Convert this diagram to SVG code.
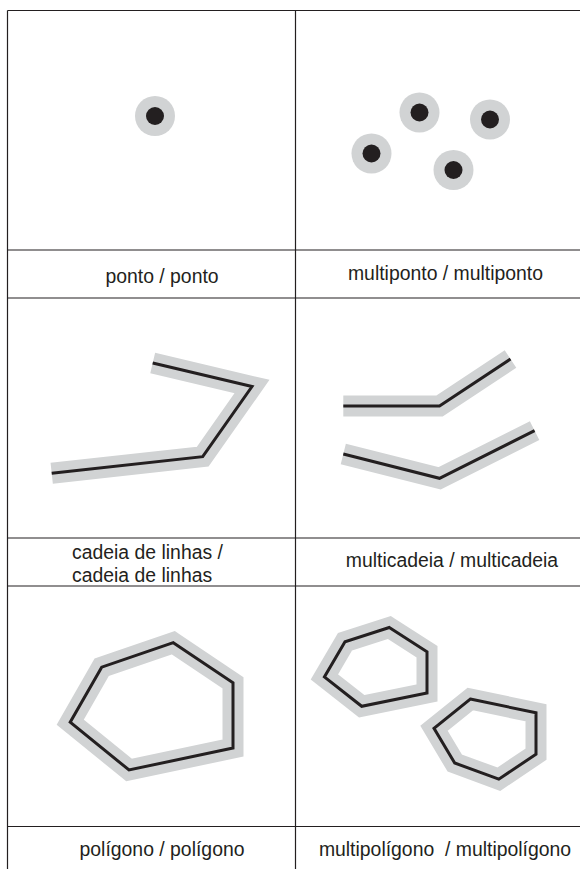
<svg xmlns="http://www.w3.org/2000/svg" width="580" height="869" viewBox="0 0 580 869">
<style>
.grid{stroke:#231f20;stroke-width:1.2;fill:none}
.halo{stroke:#d1d3d4;stroke-width:21;fill:none;stroke-linejoin:miter;stroke-miterlimit:10;stroke-linecap:butt}
.core{stroke:#231f20;stroke-width:3;fill:none;stroke-linejoin:miter;stroke-miterlimit:10}
.ph{fill:#d1d3d4}
.pc{fill:#231f20}
.lbl{font-family:"Liberation Sans",Arial,sans-serif;font-size:19.4px;fill:#231f20;text-anchor:middle}
</style>
<rect width="580" height="869" fill="#ffffff"/>
<g id="grid">
<line class="grid" x1="7.5" y1="10.5" x2="580" y2="10.5"/>
<line class="grid" x1="7.5" y1="250" x2="580" y2="250"/>
<line class="grid" x1="7.5" y1="298" x2="580" y2="298"/>
<line class="grid" x1="7.5" y1="538" x2="580" y2="538"/>
<line class="grid" x1="7.5" y1="586" x2="580" y2="586"/>
<line class="grid" x1="7.5" y1="826.5" x2="580" y2="826.5"/>
<line class="grid" x1="7.5" y1="10.5" x2="7.5" y2="869"/>
<line class="grid" x1="295.5" y1="10.5" x2="295.5" y2="869"/>
</g>
<g id="ponto">
<circle class="ph" cx="155" cy="116" r="20"/>
<circle class="pc" cx="155" cy="116" r="9"/>
<text class="lbl" x="162" y="283">ponto / ponto</text>
</g>
<g id="multiponto">
<circle class="ph" cx="419.5" cy="112.5" r="20"/>
<circle class="pc" cx="419.5" cy="112.5" r="9"/>
<circle class="ph" cx="490" cy="119.5" r="20"/>
<circle class="pc" cx="490" cy="119.5" r="9"/>
<circle class="ph" cx="371.5" cy="153.5" r="20"/>
<circle class="pc" cx="371.5" cy="153.5" r="9"/>
<circle class="ph" cx="453.5" cy="170" r="20"/>
<circle class="pc" cx="453.5" cy="170" r="9"/>
<text class="lbl" x="445.5" y="279.5">multiponto / multiponto</text>
</g>
<g id="cadeia">
<polyline class="halo" points="152.7,363 252,386.5 202.7,456.7 51.7,473.3"/>
<polyline class="core" points="152.7,363 252,386.5 202.7,456.7 51.7,473.3"/>
<text class="lbl" style="text-anchor:start" x="72" y="559">cadeia de linhas /</text>
<text class="lbl" style="text-anchor:start" x="72" y="582">cadeia de linhas</text>
</g>
<g id="multicadeia">
<polyline class="halo" points="343.3,406 439.5,406 510.5,359"/>
<polyline class="core" points="343.3,406 439.5,406 510.5,359"/>
<polyline class="halo" points="343.3,454 439.5,478.3 534.6,430.7"/>
<polyline class="core" points="343.3,454 439.5,478.3 534.6,430.7"/>
<text class="lbl" x="452" y="566.5">multicadeia / multicadeia</text>
</g>
<g id="poligono">
<polygon class="halo" points="173.3,642.7 233,682.8 233,748 129,770 70.2,722.2 101.7,667.2"/>
<polygon class="core" points="173.3,642.7 233,682.8 233,748 129,770 70.2,722.2 101.7,667.2"/>
<text class="lbl" x="162" y="856">polígono / polígono</text>
</g>
<g id="multipoligono">
<polygon class="halo" points="389.3,627.5 427,651.7 427,693 361.7,706.3 324.4,677 345,641.7"/>
<polygon class="core" points="389.3,627.5 427,651.7 427,693 361.7,706.3 324.4,677 345,641.7"/>
<polygon class="halo" points="470.3,699 536,712.8 536,754.2 498.8,779.2 454.7,763 434,728.3"/>
<polygon class="core" points="470.3,699 536,712.8 536,754.2 498.8,779.2 454.7,763 434,728.3"/>
<text class="lbl" x="445" y="856" xml:space="preserve">multipolígono  / multipolígono</text>
</g>
</svg>
